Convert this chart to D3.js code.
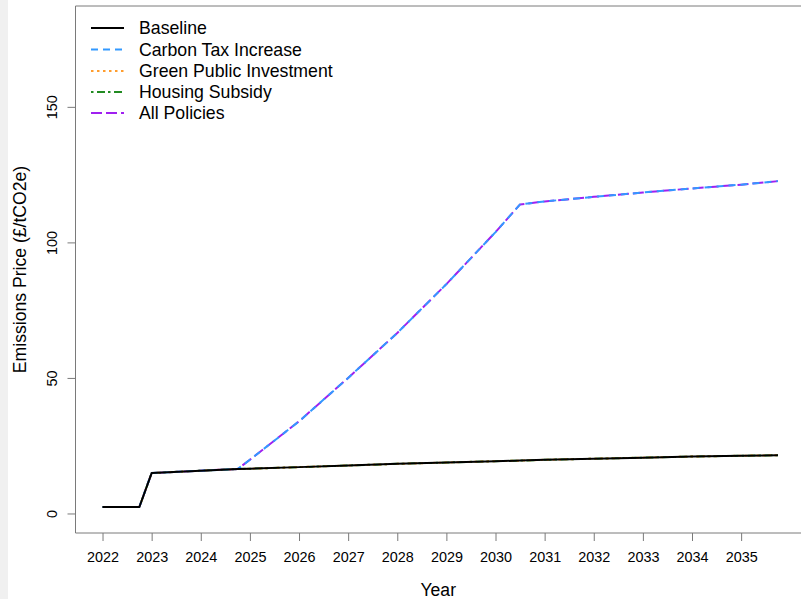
<!DOCTYPE html>
<html>
<head>
<meta charset="utf-8">
<script src="https://cdn.jsdelivr.net/npm/d3@7"></script>
<style>
  html, body { margin: 0; padding: 0; background: #fff; }
  svg { display: block; }
  text { font-family: "Liberation Sans", Arial, sans-serif; fill: #000; }
</style>
</head>
<body>
<svg id="chart" width="801" height="599"></svg>
<script>
// ---- data ----
const years = [2022, 2022.75, 2023, 2024, 2024.75, 2025, 2026, 2027, 2028, 2029, 2030, 2030.5, 2031, 2032, 2033, 2034, 2035, 2035.75];
const baseline        = [2.4, 2.4, 14.9, 15.8, 16.4, 16.5, 17.1, 17.7, 18.3, 18.8, 19.3, 19.5, 19.8, 20.2, 20.6, 21.0, 21.3, 21.5];
const carbonTax       = [2.4, 2.4, 14.9, 15.8, 16.4, 19.8, 34.0, 50.0, 66.6, 84.6, 103.8, 114.0, 115.1, 116.8, 118.4, 119.9, 121.3, 122.6];
const greenInvestment = [2.4, 2.4, 14.9, 15.8, 16.4, 16.5, 17.1, 17.7, 18.3, 18.8, 19.3, 19.5, 19.8, 20.2, 20.6, 21.0, 21.3, 21.5];
const housingSubsidy  = [2.4, 2.4, 14.9, 15.8, 16.4, 16.5, 17.1, 17.7, 18.3, 18.8, 19.3, 19.5, 19.8, 20.2, 20.6, 21.0, 21.3, 21.5];
const allPolicies     = [2.4, 2.4, 14.9, 15.8, 16.4, 19.8, 34.0, 50.0, 66.6, 84.6, 103.8, 114.0, 115.1, 116.8, 118.4, 119.9, 121.3, 122.6];
const xTicks = [2022, 2023, 2024, 2025, 2026, 2027, 2028, 2029, 2030, 2031, 2032, 2033, 2034, 2035];
const yTicks = [0, 50, 100, 150];
const seriesNames = ["Baseline", "Carbon Tax Increase", "Green Public Investment", "Housing Subsidy", "All Policies"];

// ---- styles ----
const styles = {
  "Baseline":                {color: "#000000", dash: null},
  "Carbon Tax Increase":     {color: "#3399ff", dash: "7,5"},
  "Green Public Investment": {color: "#ff9d2e", dash: "2.5,3.5"},
  "Housing Subsidy":         {color: "#228b22", dash: "2.5,3.5,8,3"},
  "All Policies":            {color: "#a020f0", dash: "11,4"}
};
const seriesData = {
  "Baseline": baseline,
  "Carbon Tax Increase": carbonTax,
  "Green Public Investment": greenInvestment,
  "Housing Subsidy": housingSubsidy,
  "All Policies": allPolicies
};

const svg = d3.select("#chart");
const H = 599;
const mLeft = 75.5, mTop = 6, mBottom = 533, mRight = 805;
const axisColor = "#7a7a7a";

svg.append("rect").attr("x", 0).attr("y", 0).attr("width", 8).attr("height", H).attr("fill", "#f0f0f0");

const x = d3.scaleLinear().domain([2021.45, 2036.3]).range([mLeft, mRight]);
const y = d3.scaleLinear().domain([-7.2, 187.2]).range([mBottom, mTop]);

// plot box
svg.append("path")
  .attr("d", `M${mRight},${mTop}H${mLeft}V${mBottom}H${mRight}`)
  .attr("fill", "none").attr("stroke", axisColor).attr("stroke-width", 1);

// x axis
const xAxis = d3.axisBottom(x).tickValues(xTicks).tickFormat(d3.format("d")).tickSize(8).tickSizeOuter(0);
const gx = svg.append("g").attr("transform", `translate(0,${mBottom})`).call(xAxis);
gx.select(".domain").remove();
gx.selectAll(".tick line").attr("stroke", axisColor);
gx.selectAll(".tick text").attr("font-size", "14.4px").attr("y", 19).attr("dy", "0.71em")
  .style("font-family", '"Liberation Sans", Arial, sans-serif').attr("fill", "#000");

// y axis
const yAxis = d3.axisLeft(y).tickValues(yTicks).tickSize(8).tickSizeOuter(0);
const gy = svg.append("g").attr("transform", `translate(${mLeft},0)`).call(yAxis);
gy.select(".domain").remove();
gy.selectAll(".tick line").attr("stroke", axisColor);
gy.selectAll(".tick text")
  .attr("x", null).attr("dy", null)
  .attr("transform", "translate(-18.5,0) rotate(-90)")
  .attr("text-anchor", "middle")
  .attr("font-size", "14.4px")
  .style("font-family", '"Liberation Sans", Arial, sans-serif').attr("fill", "#000");

// axis titles
svg.append("text").attr("x", (mLeft + 805) / 2 - 2).attr("y", 596)
  .attr("text-anchor", "middle").attr("font-size", "17.6px").text("Year");
svg.append("text").attr("transform", `translate(25.5,${(mTop + mBottom) / 2}) rotate(-90)`)
  .attr("text-anchor", "middle").attr("font-size", "17.6px").text("Emissions Price (£/tCO2e)");

// lines
const line = d3.line().x((d, i) => x(years[i])).y(d => y(d));
const drawOrder = ["All Policies", "Housing Subsidy", "Green Public Investment", "Carbon Tax Increase", "Baseline"];
const clipId = "plotclip";
svg.append("clipPath").attr("id", clipId).append("rect")
  .attr("x", mLeft).attr("y", mTop).attr("width", mRight - mLeft).attr("height", mBottom - mTop);
const gl = svg.append("g").attr("clip-path", `url(#${clipId})`);
drawOrder.forEach(name => {
  gl.append("path").datum(seriesData[name])
    .attr("d", line)
    .attr("fill", "none")
    .attr("stroke", styles[name].color)
    .attr("stroke-width", 2)
    .attr("stroke-dasharray", styles[name].dash)
    .attr("stroke-linejoin", "round");
});

// legend
const lg = svg.append("g");
const legendY = [28, 49.5, 71, 92, 113];
seriesNames.forEach((name, i) => {
  lg.append("line").attr("x1", 91).attr("x2", 124).attr("y1", legendY[i]).attr("y2", legendY[i])
    .attr("stroke", styles[name].color).attr("stroke-width", 2)
    .attr("stroke-dasharray", styles[name].dash);
  lg.append("text").attr("x", 139).attr("y", legendY[i]).attr("dy", "0.35em")
    .attr("font-size", "17.7px").text(name);
});
</script>
</body>
</html>
